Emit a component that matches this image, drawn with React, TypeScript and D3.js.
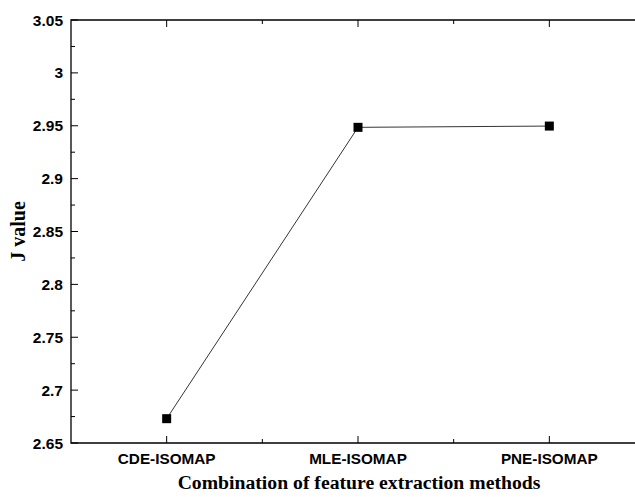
import React, { useEffect, useRef } from "react";
import * as d3 from "d3";

const methods = ["CDE-ISOMAP", "MLE-ISOMAP", "PNE-ISOMAP"];
const jValues = [2.673, 2.9485, 2.9497];
const yTicks = [2.65, 2.7, 2.75, 2.8, 2.85, 2.9, 2.95, 3, 3.05];

const App = () => {
  const svgRef = useRef<SVGSVGElement>(null);
  const width = 635;
  const height = 497;
  // the right edge of the frame falls outside the picture
  const margin = { top: 20, right: -10, bottom: 54, left: 71 };

  useEffect(() => {
    const svg = d3.select(svgRef.current);
    svg.selectAll("*").remove();

    const chartWidth = width - margin.left - margin.right;
    const chartHeight = height - margin.top - margin.bottom;

    const xScale = d3.scalePoint().domain(methods).range([0, chartWidth]).padding(0.5);
    const yScale = d3.scaleLinear().domain([2.65, 3.05]).range([chartHeight, 0]);

    svg.append("rect").attr("width", width).attr("height", height).attr("fill", "#fff");

    const g = svg.append("g").attr("transform", `translate(${margin.left},${margin.top})`);

    // frame (left, top, bottom)
    g.append("path")
      .attr("d", `M${chartWidth},0H0V${chartHeight}H${chartWidth}`)
      .attr("fill", "none")
      .attr("stroke", "#000")
      .attr("stroke-width", 1.3);

    // minor y ticks
    const minorY = d3.range(0, yTicks.length - 1).map((i) => (yTicks[i] + yTicks[i + 1]) / 2);
    g.selectAll(".yminor")
      .data(minorY)
      .enter()
      .append("line")
      .attr("x1", 0)
      .attr("x2", 4)
      .attr("y1", (d) => yScale(d))
      .attr("y2", (d) => yScale(d))
      .attr("stroke", "#000");

    // y axis ticks + labels
    g.selectAll(".ymajor")
      .data(yTicks)
      .enter()
      .append("line")
      .attr("x1", 0)
      .attr("x2", 7)
      .attr("y1", (d) => yScale(d))
      .attr("y2", (d) => yScale(d))
      .attr("stroke", "#000");

    g.selectAll(".ylabel")
      .data(yTicks)
      .enter()
      .append("text")
      .text((d) => d3.format("~g")(d))
      .attr("x", -8)
      .attr("y", (d) => yScale(d) + 5.5)
      .attr("text-anchor", "end")
      .attr("font-family", "Liberation Sans, Arial, sans-serif")
      .attr("font-weight", "bold")
      .attr("font-size", "15.5px")
      .attr("fill", "#000");

    // x ticks (bottom and top, inward)
    const step = xScale.step();
    const minorX = methods.slice(0, -1).map((m) => (xScale(m) as number) + step / 2);
    [chartHeight, 0].forEach((yPos) => {
      const dir = yPos === 0 ? 1 : -1;
      g.selectAll(null)
        .data(methods)
        .enter()
        .append("line")
        .attr("x1", (d) => xScale(d) as number)
        .attr("x2", (d) => xScale(d) as number)
        .attr("y1", yPos)
        .attr("y2", yPos + dir * 7)
        .attr("stroke", "#000");
      g.selectAll(null)
        .data(minorX)
        .enter()
        .append("line")
        .attr("x1", (d) => d)
        .attr("x2", (d) => d)
        .attr("y1", yPos)
        .attr("y2", yPos + dir * 4)
        .attr("stroke", "#000");
    });

    g.selectAll(".xlabel")
      .data(methods)
      .enter()
      .append("text")
      .text((d) => d)
      .attr("x", (d) => xScale(d) as number)
      .attr("y", chartHeight + 20.5)
      .attr("text-anchor", "middle")
      .attr("font-family", "Liberation Sans, Arial, sans-serif")
      .attr("font-weight", "bold")
      .attr("font-size", "15.3px")
      .attr("fill", "#000");

    // line
    const line = d3
      .line<number>()
      .x((d, i) => xScale(methods[i]) as number)
      .y((d) => yScale(d));

    g.append("path")
      .datum(jValues)
      .attr("d", line)
      .attr("fill", "none")
      .attr("stroke", "#000")
      .attr("stroke-width", 0.8);

    g.selectAll(".pt")
      .data(jValues)
      .enter()
      .append("rect")
      .attr("x", (d, i) => (xScale(methods[i]) as number) - 4.5)
      .attr("y", (d) => yScale(d) - 4.5)
      .attr("width", 9)
      .attr("height", 9)
      .attr("fill", "#000");

    // axis titles
    svg.append("text")
      .text("Combination of feature extraction methods")
      .attr("x", 359)
      .attr("y", 489)
      .attr("text-anchor", "middle")
      .attr("font-family", "Liberation Serif, Times New Roman, serif")
      .attr("font-weight", "bold")
      .attr("font-size", "19.7px")
      .attr("fill", "#000");

    svg.append("text")
      .text("J value")
      .attr("transform", `translate(25,${margin.top + chartHeight / 2}) rotate(-90)`)
      .attr("text-anchor", "middle")
      .attr("font-family", "Liberation Serif, Times New Roman, serif")
      .attr("font-weight", "bold")
      .attr("font-size", "20px")
      .attr("fill", "#000");
  }, []);

  return (
    <svg
      ref={svgRef}
      width={width}
      height={height}
      style={{ position: "absolute", left: 0, top: 0, display: "block", overflow: "hidden" }}
    />
  );
};

export default App;
